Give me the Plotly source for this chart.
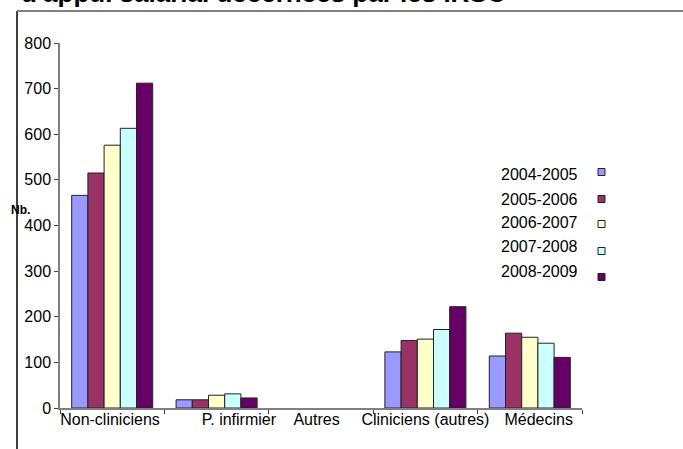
import plotly.graph_objects as go

categories = ["Non-cliniciens", "P. infirmier", "Autres", "Cliniciens (autres)", "Médecins"]
tick_labels = ["Non-cliniciens", "P. infirmier", "Autres", "Cliniciens (autres)", "Médecins"]
series_names = ["2004-2005", "2005-2006", "2006-2007", "2007-2008", "2008-2009"]
values_2004_2005 = [466, 18, 0, 123, 114]
values_2005_2006 = [515, 18, 0, 148, 164]
values_2006_2007 = [576, 28, 0, 151, 155]
values_2007_2008 = [613, 31, 0, 172, 142]
values_2008_2009 = [712, 22, 0, 222, 111]
series_values = [values_2004_2005, values_2005_2006, values_2006_2007, values_2007_2008, values_2008_2009]
colors = ["#9999FF", "#993366", "#FFFFCC", "#CCFFFF", "#660066"]
title_text = "d'appui salarial décernées par les IRSC"
y_title = "Nb."

W, H = 683, 449
L, R, T, B = 60, 582, 43, 408  # plot area in pixels


def px_x(p):
    return (p - L) / (R - L)


def px_y(p):
    return (B - p) / (B - T)


fig = go.Figure()
for name, vals, col in zip(series_names, series_values, colors):
    fig.add_trace(go.Bar(
        x=categories, y=vals, name=name,
        marker=dict(color=col, line=dict(color="#222222", width=[1 if v > 0 else 0 for v in vals])),
        showlegend=False,
    ))

font = "Liberation Sans, Arial, sans-serif"
fs = 16

annotations = []
shapes = []
# custom legend: text on the left, small square on the right
text_y = [175, 199, 222, 247, 271]
mark_y = [172, 199, 224, 251, 277]
for name, col, ty, my in zip(series_names, colors, text_y, mark_y):
    annotations.append(dict(
        x=px_x(580), y=px_y(ty), xref="paper", yref="paper",
        xanchor="right", yanchor="middle", text=name, showarrow=False,
        font=dict(family=font, size=fs, color="black"),
    ))
    shapes.append(dict(
        type="rect", xref="paper", yref="paper",
        x0=px_x(598), x1=px_x(605), y0=px_y(my + 3.5), y1=px_y(my - 3.5),
        fillcolor=col, line=dict(color="#222222", width=1),
    ))

# y-axis title
annotations.append(dict(
    x=px_x(20), y=px_y(210), xref="paper", yref="paper",
    xanchor="center", yanchor="middle", text="<b>" + y_title + "</b>", showarrow=False,
    font=dict(family=font, size=12, color="black"),
))
# cut-off chart title
annotations.append(dict(
    x=px_x(19), y=px_y(10), xref="paper", yref="paper",
    xanchor="left", yanchor="bottom", text="<b>" + title_text + "</b>", showarrow=False,
    font=dict(family=font, size=26, color="black"),
))

# outer frame lines (left and top)
shapes.append(dict(type="line", xref="paper", yref="paper",
                   x0=px_x(17), x1=px_x(17), y0=px_y(11), y1=px_y(460),
                   line=dict(color="black", width=1.5)))
shapes.append(dict(type="line", xref="paper", yref="paper",
                   x0=px_x(17), x1=px_x(700), y0=px_y(11), y1=px_y(11),
                   line=dict(color="#808080", width=2)))

# shift some tick labels sideways as in the reference (padding with no-break spaces)
nb = "\u00a0"
pad_left = [0, 10, 0, 0, 4]
pad_right = [1, 0, 2, 0, 0]
tick_text = [nb * pl + t + nb * pr for t, pl, pr in zip(tick_labels, pad_left, pad_right)]

fig.update_layout(
    width=W, height=H,
    margin=dict(l=L, r=W - R, t=T, b=H - B, pad=0, autoexpand=False),
    paper_bgcolor="white", plot_bgcolor="white",
    barmode="group", bargap=0.224, bargroupgap=0,
    font=dict(family=font, size=fs, color="black"),
    annotations=annotations, shapes=shapes,
    xaxis=dict(
        showline=True, linecolor="#808080", linewidth=1.5,
        ticks="outside", tickson="boundaries", ticklen=4, tickcolor="#404040",
        showgrid=False, tickfont=dict(size=fs), tickangle=0, automargin=False,
        tickvals=categories, ticktext=tick_text, ticklabelstandoff=-4,
    ),
    yaxis=dict(
        range=[0, 800], dtick=100, showline=True, linecolor="#808080", linewidth=1.5,
        ticks="outside", ticklen=4, tickcolor="#404040", showgrid=False, zeroline=False,
        tickfont=dict(size=fs), automargin=False,
    ),
)

fig.write_html("out.html", config={"displayModeBar": False},
               post_script="document.body.style.margin='0';")
